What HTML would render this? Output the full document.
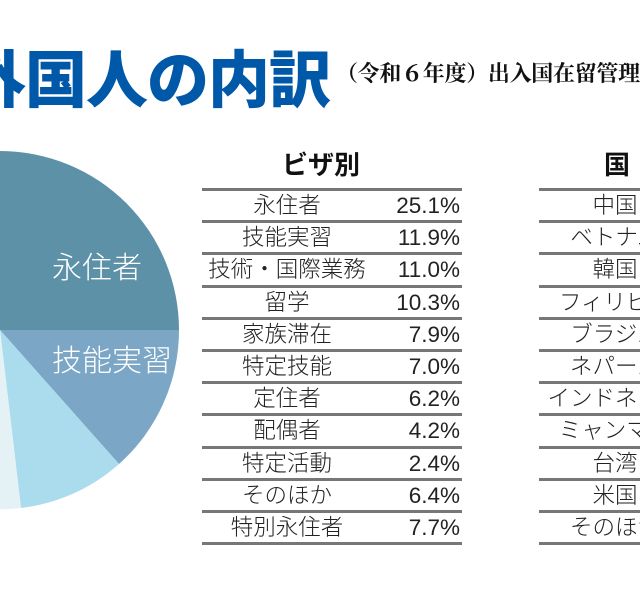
<!DOCTYPE html>
<html><head><meta charset="utf-8"><style>
html,body{margin:0;width:640px;height:600px;overflow:hidden}
body{background:#fff;position:relative;font-family:"Liberation Sans","Noto Sans CJK JP",sans-serif}
#wrap{position:absolute;left:0;top:0;width:640px;height:600px;overflow:hidden}
.abs{position:absolute;white-space:nowrap}
.title{left:-36px;top:42px;font-size:62px;font-weight:900;color:#0058a8;letter-spacing:-1px;line-height:80px}
.sub{left:336px;top:57px;font-family:"Noto Serif CJK SC","Liberation Serif",serif;font-weight:700;font-size:22px;color:#111;line-height:32px;letter-spacing:-0.3px}
.hd{font-size:26px;font-weight:700;line-height:32px;color:#111}
.row{position:absolute;height:32.2px;line-height:32px;font-size:22.5px;font-weight:300;color:#222}
.line{position:absolute;height:3px;background:#777}
.pl{position:absolute;color:#fff;font-weight:300;white-space:nowrap;font-size:30px}
</style></head><body><div id="wrap">
<svg class="abs" style="left:0;top:0" width="640" height="600">
<path d="M0,330 L0,151 A179,179 0 0 1 179,330 Z" fill="#5d91a8"/>
<path d="M0,330 L179,330 A179,179 0 0 1 119,464 Z" fill="#7ba6c5"/>
<path d="M0,330 L119,464 A179,179 0 0 1 21,508 Z" fill="#aadced"/>
<path d="M0,330 L21,508 A179,179 0 0 1 -179,330 Z" fill="#e5f2f5"/>
</svg>
<div class="pl" style="left:52px;top:243px">永住者</div>
<div class="pl" style="left:52px;top:336px">技能実習</div>
<div class="abs title">外国人の内訳</div>
<div class="abs sub">（令和６年度）出入国在留管理庁</div>
<div class="abs hd" style="left:282px;top:149px">ビザ別</div>
<div class="abs hd" style="left:604px;top:149px">国</div>
<div id="t"></div>
</div>
<script>
var L=[["永住者","25.1%"],["技能実習","11.9%"],["技術・国際業務","11.0%"],["留学","10.3%"],["家族滞在","7.9%"],["特定技能","7.0%"],["定住者","6.2%"],["配偶者","4.2%"],["特定活動","2.4%"],["そのほか","6.4%"],["特別永住者","7.7%"]];
var R=["中国","ベトナム","韓国","フィリピン","ブラジル","ネパール","インドネシア","ミャンマー","台湾","米国","そのほか"];
var h="";
for(var i=0;i<12;i++){var y=188+i*32.2;h+='<div class="line" style="left:202px;width:260px;top:'+y+'px"></div><div class="line" style="left:539px;width:101px;top:'+y+'px"></div>';}
for(var i=0;i<11;i++){var y=190+i*32.2;
h+='<div class="row" style="left:202px;width:170px;text-align:center;top:'+y+'px">'+L[i][0]+'</div>';
h+='<div class="row" style="left:372px;width:88px;text-align:right;top:'+y+'px">'+L[i][1]+'</div>';
h+='<div class="row" style="left:540px;width:100px;overflow:hidden;top:'+y+'px"><div style="position:absolute;left:-25px;width:200px;text-align:center">'+R[i]+'</div></div>';}
document.getElementById("t").innerHTML=h;
</script>
</body></html>
